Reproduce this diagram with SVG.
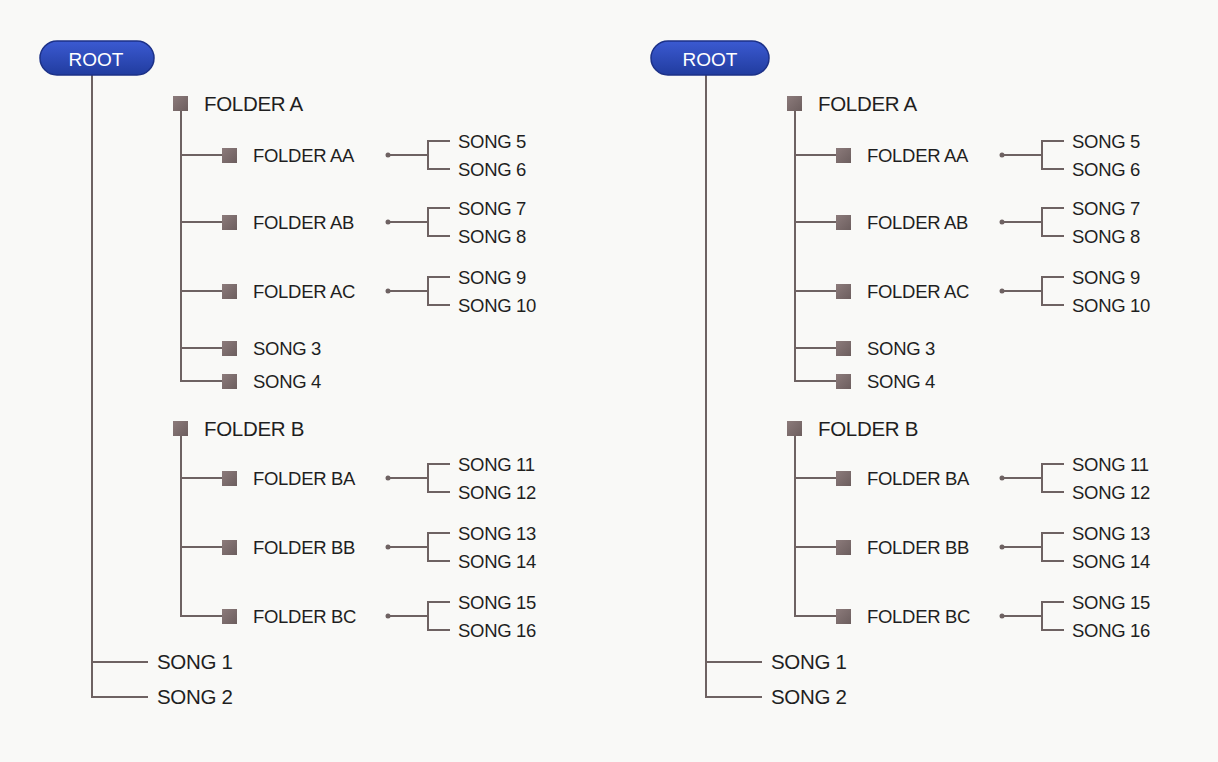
<svg xmlns="http://www.w3.org/2000/svg" width="1218" height="762" viewBox="0 0 1218 762">
<style>
.ln{stroke:#6e6262;stroke-width:2;fill:none}
.sq{fill:url(#sqg)}
.dot{fill:#6e6262}
.t{font-family:"Liberation Sans",Arial,sans-serif;fill:#1f1f1f;letter-spacing:-0.3px}
.f1{font-size:20.5px}
.f2{font-size:18.5px}
.s1{font-size:20.5px}
.rt{font-family:"Liberation Sans",Arial,sans-serif;font-size:19px;fill:#ffffff;text-anchor:middle}
.pill{fill:url(#pg);stroke:#1c3188;stroke-width:1.5}
</style>
<defs>
<linearGradient id="pg" x1="0" y1="0" x2="0" y2="1">
<stop offset="0" stop-color="#3b5ad2"/>
<stop offset="1" stop-color="#213c9f"/>
</linearGradient>
<linearGradient id="sqg" x1="0" y1="0" x2="1" y2="1">
<stop offset="0" stop-color="#8c7b7b"/>
<stop offset="1" stop-color="#6c5e5e"/>
</linearGradient>
</defs>
<rect width="1218" height="762" fill="#f9f9f7"/>

<g id="left-tree">
<g id="connectors-left">
<path class="ln" d="M92 75V697H148M92 662H148"/>
<path class="ln" d="M181 111V381H222M181 155H222M181 222H222M181 291H222M181 348H222"/>
<path class="ln" d="M181 435V616H222M181 478H222M181 547H222"/>
<path class="ln" d="M388 155H428M450 141H428V169H450"/>
<path class="ln" d="M388 222H428M450 208H428V236H450"/>
<path class="ln" d="M388 291H428M450 277H428V305H450"/>
<path class="ln" d="M388 478H428M450 464H428V492H450"/>
<path class="ln" d="M388 547H428M450 533H428V561H450"/>
<path class="ln" d="M388 616H428M450 602H428V630H450"/>
<circle class="dot" cx="388" cy="155" r="2.5"/>
<circle class="dot" cx="388" cy="222" r="2.5"/>
<circle class="dot" cx="388" cy="291" r="2.5"/>
<circle class="dot" cx="388" cy="478" r="2.5"/>
<circle class="dot" cx="388" cy="547" r="2.5"/>
<circle class="dot" cx="388" cy="616" r="2.5"/>
</g>
<g id="L-root"><rect class="pill" x="40" y="41" width="114" height="34" rx="17"/><text class="rt" x="96" y="66">ROOT</text></g>
<g id="L-folderA"><rect class="sq" x="173" y="96" width="15" height="15"/><text class="t f1" x="204" y="111">FOLDER A</text></g>
<g id="L-folderAA"><rect class="sq" x="222" y="148" width="15" height="15"/><text class="t f2" x="253" y="162">FOLDER AA</text></g>
<g id="L-song5"><text class="t f2" x="458" y="148">SONG 5</text></g>
<g id="L-song6"><text class="t f2" x="458" y="176">SONG 6</text></g>
<g id="L-folderAB"><rect class="sq" x="222" y="215" width="15" height="15"/><text class="t f2" x="253" y="229">FOLDER AB</text></g>
<g id="L-song7"><text class="t f2" x="458" y="215">SONG 7</text></g>
<g id="L-song8"><text class="t f2" x="458" y="243">SONG 8</text></g>
<g id="L-folderAC"><rect class="sq" x="222" y="284" width="15" height="15"/><text class="t f2" x="253" y="298">FOLDER AC</text></g>
<g id="L-song9"><text class="t f2" x="458" y="284">SONG 9</text></g>
<g id="L-song10"><text class="t f2" x="458" y="312">SONG 10</text></g>
<g id="L-song3"><rect class="sq" x="222" y="341" width="15" height="15"/><text class="t f2" x="253" y="355">SONG 3</text></g>
<g id="L-song4"><rect class="sq" x="222" y="374" width="15" height="15"/><text class="t f2" x="253" y="388">SONG 4</text></g>
<g id="L-folderB"><rect class="sq" x="173" y="421" width="15" height="15"/><text class="t f1" x="204" y="436">FOLDER B</text></g>
<g id="L-folderBA"><rect class="sq" x="222" y="471" width="15" height="15"/><text class="t f2" x="253" y="485">FOLDER BA</text></g>
<g id="L-song11"><text class="t f2" x="458" y="471">SONG 11</text></g>
<g id="L-song12"><text class="t f2" x="458" y="499">SONG 12</text></g>
<g id="L-folderBB"><rect class="sq" x="222" y="540" width="15" height="15"/><text class="t f2" x="253" y="554">FOLDER BB</text></g>
<g id="L-song13"><text class="t f2" x="458" y="540">SONG 13</text></g>
<g id="L-song14"><text class="t f2" x="458" y="568">SONG 14</text></g>
<g id="L-folderBC"><rect class="sq" x="222" y="609" width="15" height="15"/><text class="t f2" x="253" y="623">FOLDER BC</text></g>
<g id="L-song15"><text class="t f2" x="458" y="609">SONG 15</text></g>
<g id="L-song16"><text class="t f2" x="458" y="637">SONG 16</text></g>
<g id="L-song1"><text class="t s1" x="157" y="669">SONG 1</text></g>
<g id="L-song2"><text class="t s1" x="157" y="704">SONG 2</text></g>
</g>

<g id="right-tree" transform="translate(614,0)">
<g id="connectors-right">
<path class="ln" d="M92 75V697H148M92 662H148"/>
<path class="ln" d="M181 111V381H222M181 155H222M181 222H222M181 291H222M181 348H222"/>
<path class="ln" d="M181 435V616H222M181 478H222M181 547H222"/>
<path class="ln" d="M388 155H428M450 141H428V169H450"/>
<path class="ln" d="M388 222H428M450 208H428V236H450"/>
<path class="ln" d="M388 291H428M450 277H428V305H450"/>
<path class="ln" d="M388 478H428M450 464H428V492H450"/>
<path class="ln" d="M388 547H428M450 533H428V561H450"/>
<path class="ln" d="M388 616H428M450 602H428V630H450"/>
<circle class="dot" cx="388" cy="155" r="2.5"/>
<circle class="dot" cx="388" cy="222" r="2.5"/>
<circle class="dot" cx="388" cy="291" r="2.5"/>
<circle class="dot" cx="388" cy="478" r="2.5"/>
<circle class="dot" cx="388" cy="547" r="2.5"/>
<circle class="dot" cx="388" cy="616" r="2.5"/>
</g>
<g id="R-root"><rect class="pill" x="37" y="41" width="118" height="34" rx="17"/><text class="rt" x="96" y="66">ROOT</text></g>
<g id="R-folderA"><rect class="sq" x="173" y="96" width="15" height="15"/><text class="t f1" x="204" y="111">FOLDER A</text></g>
<g id="R-folderAA"><rect class="sq" x="222" y="148" width="15" height="15"/><text class="t f2" x="253" y="162">FOLDER AA</text></g>
<g id="R-song5"><text class="t f2" x="458" y="148">SONG 5</text></g>
<g id="R-song6"><text class="t f2" x="458" y="176">SONG 6</text></g>
<g id="R-folderAB"><rect class="sq" x="222" y="215" width="15" height="15"/><text class="t f2" x="253" y="229">FOLDER AB</text></g>
<g id="R-song7"><text class="t f2" x="458" y="215">SONG 7</text></g>
<g id="R-song8"><text class="t f2" x="458" y="243">SONG 8</text></g>
<g id="R-folderAC"><rect class="sq" x="222" y="284" width="15" height="15"/><text class="t f2" x="253" y="298">FOLDER AC</text></g>
<g id="R-song9"><text class="t f2" x="458" y="284">SONG 9</text></g>
<g id="R-song10"><text class="t f2" x="458" y="312">SONG 10</text></g>
<g id="R-song3"><rect class="sq" x="222" y="341" width="15" height="15"/><text class="t f2" x="253" y="355">SONG 3</text></g>
<g id="R-song4"><rect class="sq" x="222" y="374" width="15" height="15"/><text class="t f2" x="253" y="388">SONG 4</text></g>
<g id="R-folderB"><rect class="sq" x="173" y="421" width="15" height="15"/><text class="t f1" x="204" y="436">FOLDER B</text></g>
<g id="R-folderBA"><rect class="sq" x="222" y="471" width="15" height="15"/><text class="t f2" x="253" y="485">FOLDER BA</text></g>
<g id="R-song11"><text class="t f2" x="458" y="471">SONG 11</text></g>
<g id="R-song12"><text class="t f2" x="458" y="499">SONG 12</text></g>
<g id="R-folderBB"><rect class="sq" x="222" y="540" width="15" height="15"/><text class="t f2" x="253" y="554">FOLDER BB</text></g>
<g id="R-song13"><text class="t f2" x="458" y="540">SONG 13</text></g>
<g id="R-song14"><text class="t f2" x="458" y="568">SONG 14</text></g>
<g id="R-folderBC"><rect class="sq" x="222" y="609" width="15" height="15"/><text class="t f2" x="253" y="623">FOLDER BC</text></g>
<g id="R-song15"><text class="t f2" x="458" y="609">SONG 15</text></g>
<g id="R-song16"><text class="t f2" x="458" y="637">SONG 16</text></g>
<g id="R-song1"><text class="t s1" x="157" y="669">SONG 1</text></g>
<g id="R-song2"><text class="t s1" x="157" y="704">SONG 2</text></g>
</g>
</svg>
